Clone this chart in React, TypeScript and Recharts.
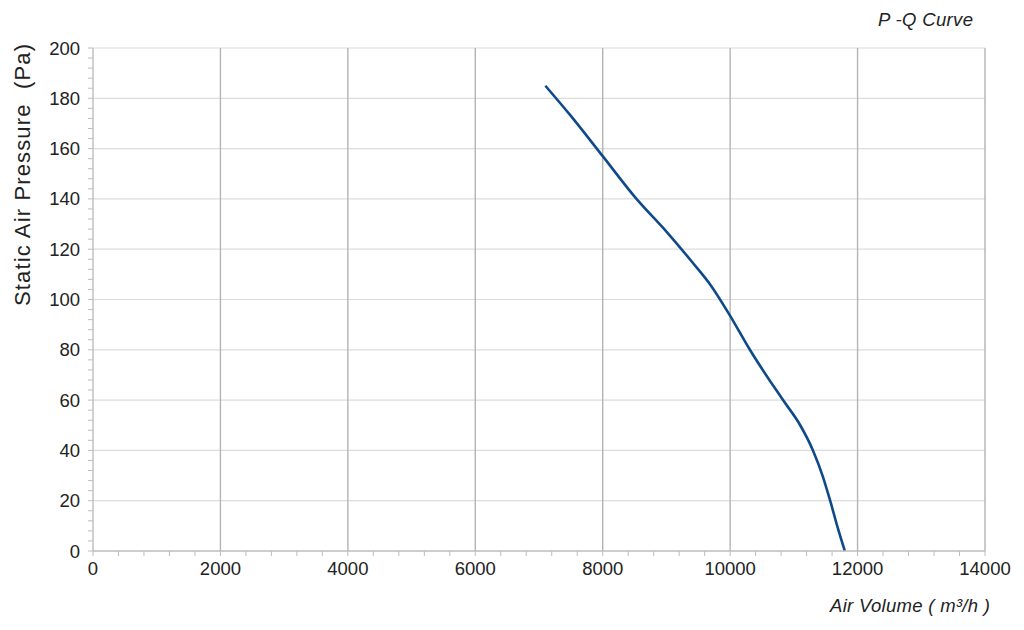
import { LineChart, Line, XAxis, YAxis, ReferenceLine } from "recharts";

// air volume (m3/h) and static pressure (Pa)
const airVolume = [7100, 7500, 8000, 8530, 9000, 9400, 9700, 10000, 10310, 10830, 11100, 11300, 11450, 11570, 11680, 11800];
const pressure = [185, 173, 157, 140, 127, 115, 105.5, 93.5, 80, 60, 50, 40, 30, 20, 10, 0];

const xMajor = [0, 2000, 4000, 6000, 8000, 10000, 12000, 14000];
const yMajor = [0, 20, 40, 60, 80, 100, 120, 140, 160, 180, 200];

// minor ticks: 5 per major step
const xTicks = Array.from({ length: 36 }, (_, i) => i * 400);
const yTicks = Array.from({ length: 51 }, (_, i) => i * 4);

const data = airVolume.map((q, i) => ({ q, p: pressure[i] }));

const axisGray = "#bdbdbd";
const textColor = "#222";

function XTick(props: any) {
  const { x, y, payload } = props;
  if (!xMajor.includes(payload.value)) return <g />;
  return (
    <text x={x} y={y} dy="0.71em" textAnchor="middle" fontSize={18.5} fill={textColor}>
      {payload.value}
    </text>
  );
}

function YTick(props: any) {
  const { x, y, payload } = props;
  if (!yMajor.includes(payload.value)) return <g />;
  return (
    <text x={x} y={y} dy="0.355em" textAnchor="end" fontSize={18.5} fill={textColor}>
      {payload.value}
    </text>
  );
}

export default function App() {
  return (
    <div
      style={{
        position: "absolute",
        left: 0,
        top: 0,
        width: 1024,
        height: 630,
        background: "#fff",
        fontFamily: '"Liberation Sans", Arial, sans-serif',
      }}
    >
      <LineChart
        width={1024}
        height={630}
        data={data}
        margin={{ top: 48, right: 39, bottom: 49, left: 0 }}
      >
        {yMajor.slice(1).map((v) => (
          <ReferenceLine key={"h" + v} y={v} stroke="#dcdcdc" strokeWidth={1.2} />
        ))}
        {xMajor.slice(1).map((v) => (
          <ReferenceLine key={"v" + v} x={v} stroke="#b4b4b4" strokeWidth={1.4} />
        ))}
        <XAxis
          type="number"
          dataKey="q"
          domain={[0, 14000]}
          ticks={xTicks}
          interval={0}
          height={30}
          tickSize={5}
          tickMargin={6}
          axisLine={{ stroke: axisGray, strokeWidth: 1.4 }}
          tickLine={{ stroke: axisGray }}
          tick={<XTick />}
        />
        <YAxis
          type="number"
          dataKey="p"
          domain={[0, 200]}
          ticks={yTicks}
          interval={0}
          width={93}
          tickSize={5}
          tickMargin={8}
          axisLine={{ stroke: axisGray, strokeWidth: 1.4 }}
          tickLine={{ stroke: axisGray }}
          tick={<YTick />}
        />
        <Line
          type="monotone"
          dataKey="p"
          stroke="#0e4a8a"
          strokeWidth={2.6}
          dot={false}
          activeDot={false}
          isAnimationActive={false}
        />
        <text
          x={30}
          y={175}
          transform="rotate(-90 30 175)"
          textAnchor="middle"
          fontSize={22}
          fill={textColor}
          textLength={262}
          lengthAdjust="spacing"
          style={{ whiteSpace: "pre" }}
        >
          Static Air Pressure  (Pa)
        </text>
        <text
          x={973}
          y={26}
          textAnchor="end"
          fontSize={18.5}
          fontStyle="italic"
          fill={textColor}
          textLength={95}
          lengthAdjust="spacing"
        >
          P -Q Curve
        </text>
        <text
          x={990}
          y={612}
          textAnchor="end"
          fontSize={18.5}
          fontStyle="italic"
          fill={textColor}
          textLength={160}
          lengthAdjust="spacing"
        >
          Air Volume ( m³/h )
        </text>
      </LineChart>
    </div>
  );
}
